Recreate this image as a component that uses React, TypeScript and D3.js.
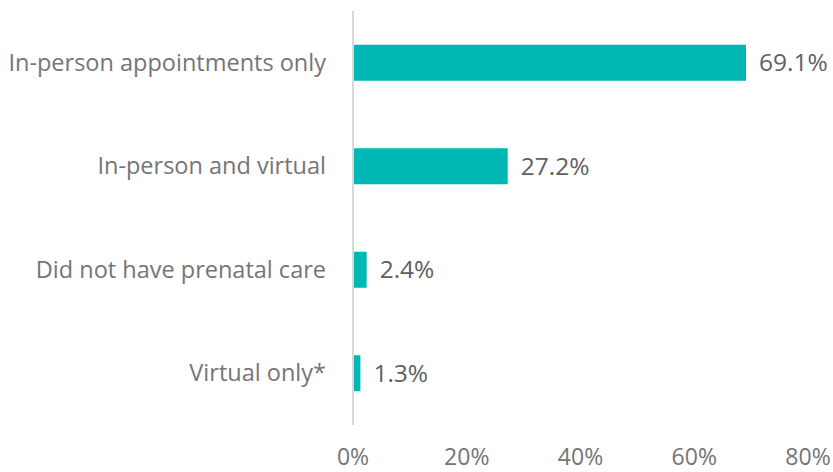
import React from "react";
import * as d3 from "d3";

const categories = [
  "In-person appointments only",
  "In-person and virtual",
  "Did not have prenatal care",
  "Virtual only*",
];
const values = [69.1, 27.2, 2.4, 1.3];
const ticks = [0, 20, 40, 60, 80];

const W = 833;
const H = 472;
const FONT = "'Open Sans', sans-serif";

export default function App() {
  const x = d3.scaleLinear().domain([0, 80]).range([353, 808]);
  const y = d3
    .scaleBand<string>()
    .domain(categories)
    .range([11, 425])
    .paddingInner(0.652)
    .paddingOuter(0.326);

  return (
    <svg
      width={W}
      height={H}
      style={{ position: "absolute", left: 0, top: 0, background: "#fff" }}
    >
      {categories.map((c, i) => {
        const yy = y(c)!;
        const bw = y.bandwidth();
        const cy = yy + bw / 2;
        return (
          <g key={c}>
            <rect
              x={x(0)}
              y={yy}
              width={x(values[i]) - x(0)}
              height={bw}
              fill="#00B8B3"
            />
            <text
              x={326}
              y={cy}
              dy="0.35em"
              textAnchor="end"
              fontFamily={FONT}
              fontSize={23.5}
              fill="#757575"
            >
              {c}
            </text>
            <text
              x={x(values[i]) + 13}
              y={cy}
              dy="0.35em"
              textAnchor="start"
              fontFamily={FONT}
              fontSize={24.5}
              fill="#5f5f5f"
            >
              {values[i].toFixed(1)}%
            </text>
          </g>
        );
      })}
      <line x1={x(0)} x2={x(0)} y1={11} y2={425} stroke="#d9d9d9" strokeWidth={2} />
      {ticks.map((t) => (
        <text
          key={t}
          x={x(t)}
          y={457}
          dy="0.35em"
          textAnchor="middle"
          fontFamily={FONT}
          fontSize={23}
          fill="#757575"
        >
          {t}%
        </text>
      ))}
    </svg>
  );
}
